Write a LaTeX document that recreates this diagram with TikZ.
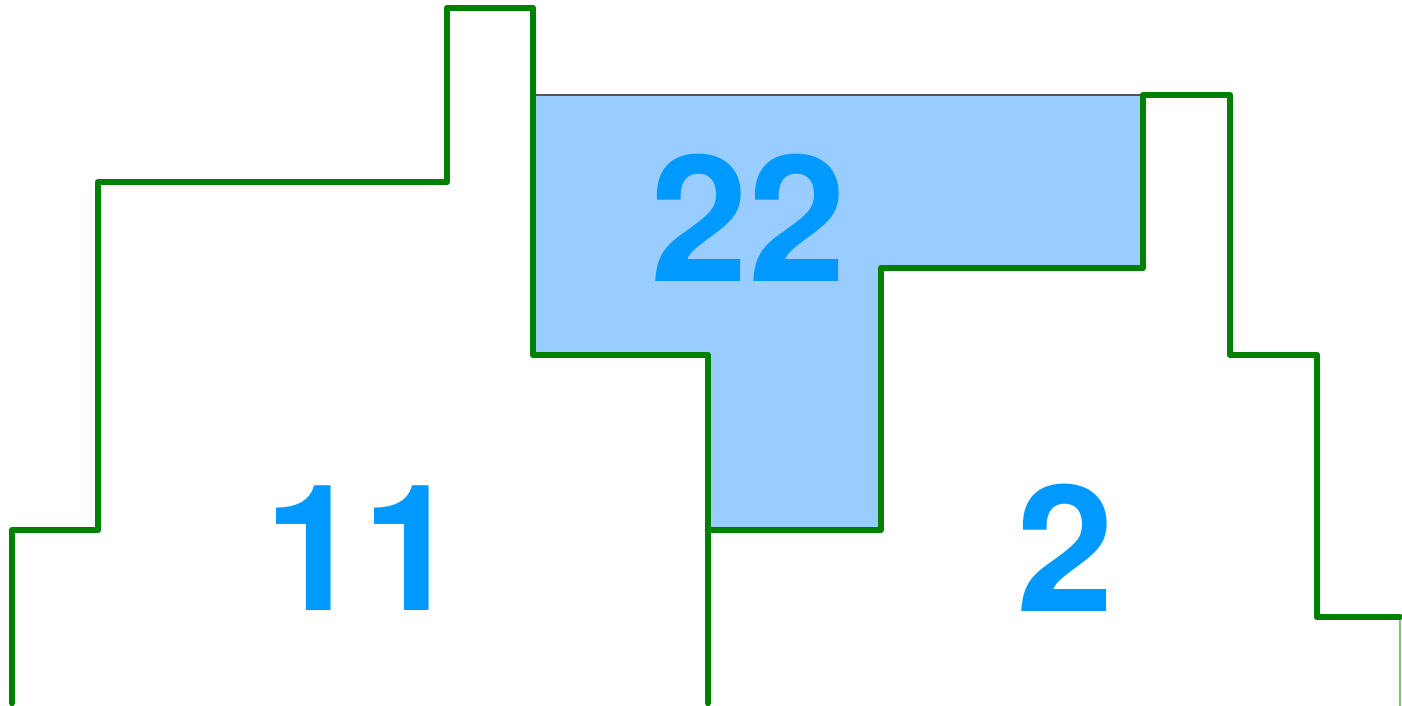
\documentclass[tikz,border=0pt]{standalone}
\usepackage{fontspec}
\setmainfont{TeX Gyre Heros}
\usepackage{xcolor}
\definecolor{Wall}{HTML}{008000}
\definecolor{Water}{HTML}{99CCFF}
\definecolor{Digit}{HTML}{0099FF}
\definecolor{Rim}{HTML}{555555}
\tikzset{
  wall/.style={draw=Wall, line width=3.3pt, line join=round, line cap=round},
  pool/.style={fill=Water, draw=none},
  rim/.style={draw=Rim, line width=0.6pt},
  count/.style={text=Digit, font=\fontsize{88}{88}\selectfont\bfseries, inner sep=0pt}
}

\begin{document}
\begin{tikzpicture}[x=0.5pt, y=-0.5pt]
\useasboundingbox (0,0) rectangle (1402,706);
% trapped water
\fill[pool] (533,95) -- (1143,95) -- (1143,268) -- (881,268) -- (881,530)
  -- (708,530) -- (708,355) -- (533,355) -- cycle;
\draw[rim] (533,95) -- (1143,95);
\draw[rim, draw=Wall!50] (1400,617) -- (1400,706);
% left profile
\draw[wall] (12,703) -- (12,530) -- (98,530) -- (98,182) -- (447,182) -- (447,8)
  -- (533,8) -- (533,355) -- (708,355) -- (708,703);
% right profile
\draw[wall] (708,530) -- (881,530) -- (881,268) -- (1143,268) -- (1143,95)
  -- (1230,95) -- (1230,355) -- (1317,355) -- (1317,617) -- (1400,617);
% amounts
\node[count] (mid) at (748,218) {22};
\node[count] (left) at (362,548) {11};
\node[count] (right) at (1065,548) {2};
\end{tikzpicture}
\end{document}
